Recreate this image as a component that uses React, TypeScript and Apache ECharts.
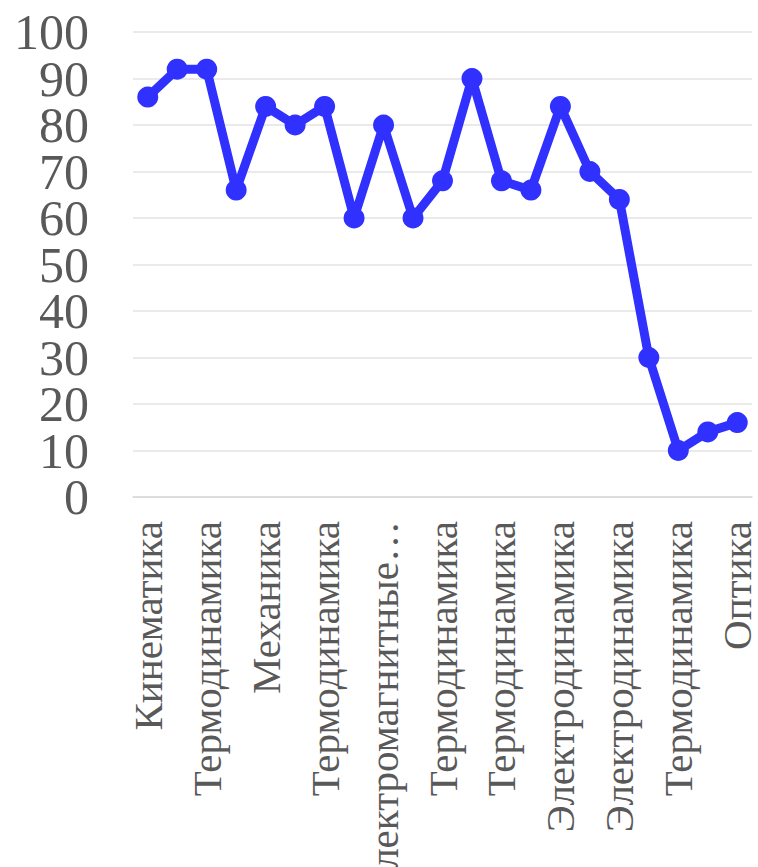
import React, { useEffect, useRef } from "react";
import * as echarts from "echarts";

const categories = [
  "Кинематика",
  "Динамика",
  "Термодинамика",
  "Статика",
  "Механика",
  "Молекулярная физика",
  "Термодинамика",
  "Электростатика",
  "Электромагнитные колебания",
  "Постоянный ток",
  "Термодинамика",
  "Механика",
  "Термодинамика",
  "Магнетизм",
  "Электродинамика",
  "Кинематика",
  "Электродинамика",
  "Колебания",
  "Термодинамика",
  "Волны",
  "Оптика",
];

const values = [86, 92, 92, 66, 84, 80, 84, 60, 80, 60, 68, 90, 68, 66, 84, 70, 64, 30, 10, 14, 16];

const yTicks = { min: 0, max: 100, interval: 10 };

const FONT = "'Liberation Serif', 'Times New Roman', serif";

const yLabel = (showEven: boolean) => ({
  margin: 44,
  color: "#595959",
  fontFamily: FONT,
  fontSize: 50,
  showMinLabel: true,
  showMaxLabel: true,
  hideOverlap: false,
  formatter: (v: number) => ((Math.round(v / 10) % 2 === 0) === showEven ? String(v) : ""),
});

export default function App() {
  const ref = useRef<HTMLDivElement>(null);
  useEffect(() => {
    document.body.style.margin = "0";
    const chart = echarts.init(ref.current!, null, { renderer: "svg" });
    chart.setOption({
      animation: false,
      backgroundColor: "#ffffff",
      textStyle: { fontFamily: FONT },
      grid: { left: 133, right: 6, top: 32, bottom: 370, outerBoundsMode: "none", containLabel: false },
      xAxis: {
        type: "category",
        data: categories,
        boundaryGap: true,
        axisLine: { show: true, lineStyle: { color: "#d9d9d9", width: 1.5 } },
        axisTick: { show: false },
        axisLabel: {
          interval: 1,
          rotate: 90,
          margin: 24,
          color: "#595959",
          fontFamily: FONT,
          fontSize: 41,
          hideOverlap: false,
          formatter: (v: string) => (v.length > 16 ? v.slice(0, 16) + "…" : v),
        },
      },
      yAxis: [
        {
          type: "value",
          position: "left",
          min: yTicks.min,
          max: yTicks.max,
          interval: yTicks.interval,
          axisLine: { show: false },
          axisTick: { show: false },
          splitLine: { lineStyle: { color: "#e3e3e3", width: 1.5 } },
          axisLabel: yLabel(true),
        },
        {
          type: "value",
          position: "left",
          offset: 0,
          min: yTicks.min,
          max: yTicks.max,
          interval: yTicks.interval,
          axisLine: { show: false },
          axisTick: { show: false },
          splitLine: { show: false },
          axisLabel: yLabel(false),
        },
      ],
      series: [
        {
          type: "line",
          yAxisIndex: 0,
          data: values,
          symbol: "circle",
          symbolSize: 21,
          showAllSymbol: true,
          lineStyle: { color: "#3030ff", width: 9 },
          itemStyle: { color: "#3030ff" },
        },
      ],
    });
    return () => chart.dispose();
  }, []);
  return <div ref={ref} style={{ width: 758, height: 867 }} />;
}
